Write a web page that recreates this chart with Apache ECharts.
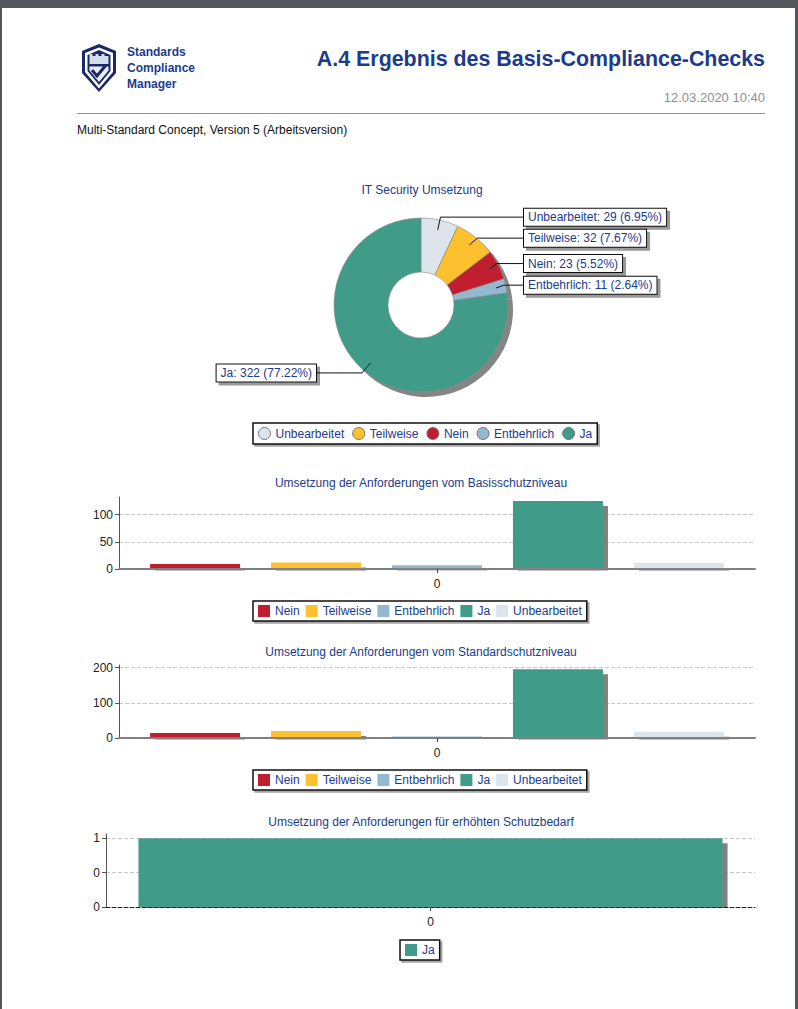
<!DOCTYPE html>
<html><head><meta charset="utf-8">
<script src="https://cdn.jsdelivr.net/npm/echarts/dist/echarts.min.js"></script>
<style>html,body{margin:0;padding:0;background:#fff}#c{width:798px;height:1009px}</style>
</head><body><div id="c"></div>
<script>
// ---- data ----
const PIE_NAMES = ['Unbearbeitet', 'Teilweise', 'Nein', 'Entbehrlich', 'Ja'];
const PIE_VALUES = [29, 32, 23, 11, 322];
const BAR_NAMES = ['Nein', 'Teilweise', 'Entbehrlich', 'Ja', 'Unbearbeitet'];
const BASIS_VALUES = [9, 12, 7, 125, 11];
const STANDARD_VALUES = [14, 20, 4, 196, 18];
const ERHOEHT_NAMES = ['Ja'];
const ERHOEHT_VALUES = [1];
const X_CATEGORIES = ['0'];
const TITLES = ['IT Security Umsetzung', 'Umsetzung der Anforderungen vom Basisschutzniveau',
  'Umsetzung der Anforderungen vom Standardschutzniveau', 'Umsetzung der Anforderungen für erhöhten Schutzbedarf'];

// ---- styles ----
const COLORS = { Nein: '#c11f2f', Teilweise: '#fdc12f', Entbehrlich: '#94b8ce', Ja: '#419b89', Unbearbeitet: '#dde5ec' };
const FONT = '"Liberation Sans", Arial, sans-serif';
const BLUE = '#1b3b8b';
const CX = 421, CY = 305;

const chart = echarts.init(document.getElementById('c'), null, { renderer: 'svg' });

function barSeries(names, values, idx, width, gap) {
  return names.map((n, i) => ({
    type: 'bar', name: n, xAxisIndex: idx, yAxisIndex: idx, data: [values[i]],
    barWidth: width, barGap: gap, z: 2,
    itemStyle: { color: COLORS[n], shadowColor: '#808080', shadowOffsetX: 5, shadowOffsetY: 5, shadowBlur: 0 },
    emphasis: { disabled: true }
  }));
}

function yAxis(idx, interval, fmt) {
  return {
    type: 'value', gridIndex: idx, min: 0, max: v => v.max * 1.06, interval: interval,
    axisLine: { show: true, lineStyle: { color: '#555' } },
    axisTick: { show: true, length: 4, lineStyle: { color: '#555' } },
    axisLabel: { color: '#222', fontSize: 12, margin: 6, showMaxLabel: false, formatter: fmt },
    splitLine: { show: true, showMaxLine: false, lineStyle: { color: '#c8c8c8', type: 'dashed' } }
  };
}
function xAxis(idx, lineStyle) {
  return {
    type: 'category', gridIndex: idx, data: X_CATEGORIES, z: 60,
    axisLine: { show: true, lineStyle: lineStyle },
    axisTick: { show: true, alignWithLabel: true, length: 4, lineStyle: { color: '#444' } },
    axisLabel: { color: '#222', fontSize: 12, margin: 9 }
  };
}
function legend(names, left, top, icon, gap) {
  return {
    data: names, left: left, top: top, icon: icon, itemWidth: 12, itemHeight: 12, itemGap: gap,
    padding: [4, 5], borderColor: '#111', borderWidth: 1.5, backgroundColor: '#fff',
    shadowColor: 'rgba(0,0,0,0.35)', shadowOffsetX: 2, shadowOffsetY: 2, shadowBlur: 0,
    textStyle: { color: BLUE, fontSize: 12, fontFamily: FONT },
    itemStyle: icon === 'circle' ? { borderColor: '#777', borderWidth: 1 } : { borderWidth: 0 },
    selectedMode: false
  };
}

const titleStyle = { fontSize: 12, fontWeight: 'normal', color: BLUE, fontFamily: FONT };
const NAVY = '#1b2a66';

const option = {
  backgroundColor: '#fff',
  animation: false,
  textStyle: { fontFamily: FONT },
  title: [
    { text: TITLES[0], left: 422, top: 184, textAlign: 'center', padding: 0, textStyle: titleStyle },
    { text: TITLES[1], left: 421, top: 477, textAlign: 'center', padding: 0, textStyle: titleStyle },
    { text: TITLES[2], left: 421, top: 646, textAlign: 'center', padding: 0, textStyle: titleStyle },
    { text: TITLES[3], left: 421, top: 816, textAlign: 'center', padding: 0, textStyle: titleStyle }
  ],
  legend: [
    legend(PIE_NAMES, 253, 423, 'circle', 8),
    legend(BAR_NAMES, 253, 601, 'rect', 6),
    legend(BAR_NAMES, 253, 770, 'rect', 6),
    legend(ERHOEHT_NAMES, 400, 940, 'rect', 6)
  ],
  grid: [
    { left: 119, top: 497, width: 636, height: 72 },
    { left: 119, top: 665, width: 636, height: 73 },
    { left: 106, top: 834, width: 649, height: 73 }
  ],
  xAxis: [
    xAxis(0, { color: '#808080', width: 2 }),
    xAxis(1, { color: '#808080', width: 2 }),
    xAxis(2, { color: '#222', width: 1, type: 'dashed' })
  ],
  yAxis: [
    yAxis(0, 50),
    yAxis(1, 100),
    yAxis(2, 0.5, v => String(Math.floor(v)))
  ],
  series: [
    // shadow of the donut
    { type: 'pie', silent: true, z: 1, center: [CX + 5, CY + 5], radius: [41, 87], startAngle: 90,
      data: PIE_VALUES, label: { show: false }, labelLine: { show: false },
      itemStyle: { color: '#858585' }, emphasis: { disabled: true } },
    // donut
    { type: 'pie', silent: true, z: 2, center: [CX, CY], radius: [33, 87], startAngle: 90,
      color: PIE_NAMES.map(n => COLORS[n]),
      data: PIE_NAMES.map((n, i) => ({ name: n, value: PIE_VALUES[i] })),
      label: { show: false }, labelLine: { show: false },
      itemStyle: { borderColor: '#8a8a8a', borderWidth: 0.6 }, emphasis: { disabled: true } },
    // label carrier
    { type: 'pie', silent: true, z: 3, center: [CX, CY], radius: [0, 77], startAngle: 90,
      data: PIE_NAMES.map((n, i) => ({ name: n, value: PIE_VALUES[i] })),
      itemStyle: { color: 'rgba(0,0,0,0)' }, emphasis: { disabled: true },
      label: { show: true, position: 'outside', formatter: '{b}: {c} ({d}%)', color: BLUE, fontSize: 12,
        backgroundColor: '#fff', borderColor: '#111', borderWidth: 1, padding: [3, 4, 2, 4],
        shadowColor: 'rgba(0,0,0,0.4)', shadowOffsetX: 3, shadowOffsetY: 3, shadowBlur: 0 },
      labelLine: { show: true, length: 13, length2: 10, lineStyle: { color: '#111', width: 1 } },
      labelLayout: function (p) {
        const pts = p.labelLinePoints;
        if (!pts) return {};
        const right = pts[1][0] > CX;
        const ex = right ? CX + 103 : CX - 105;
        const y = pts[2][1];
        return { x: ex, y: y, align: right ? 'left' : 'right', verticalAlign: 'middle',
          labelLinePoints: [pts[0], pts[1], [ex, y]] };
      } }
  ].concat(barSeries(BAR_NAMES, BASIS_VALUES, 0, 90, '34.4%'))
   .concat(barSeries(BAR_NAMES, STANDARD_VALUES, 1, 90, '34.4%'))
   .concat(barSeries(ERHOEHT_NAMES, ERHOEHT_VALUES, 2, '90%', '0%')),
  graphic: {
    elements: [
      // page frame
      { type: 'rect', z: 50, shape: { x: 0, y: 0, width: 798, height: 8 }, style: { fill: '#53575b' } },
      { type: 'rect', z: 50, shape: { x: 0, y: 0, width: 2, height: 1009 }, style: { fill: '#53575b' } },
      { type: 'rect', z: 50, shape: { x: 795, y: 0, width: 3, height: 1009 }, style: { fill: '#53575b' } },
      // covers for bar shadows below baselines
      { type: 'rect', z: 50, shape: { x: 120, y: 570.5, width: 645, height: 6 }, style: { fill: '#fff' } },
      { type: 'rect', z: 50, shape: { x: 120, y: 739.5, width: 645, height: 6 }, style: { fill: '#fff' } },
      { type: 'rect', z: 50, shape: { x: 107, y: 908, width: 658, height: 6 }, style: { fill: '#fff' } },
      // logo
      { type: 'polygon', z: 50, shape: { points: [[99, 44], [116, 51], [116, 73], [99, 92], [82, 73], [82, 51]] }, style: { fill: NAVY } },
      { type: 'polygon', z: 50, shape: { points: [[99, 47.5], [113, 53], [113, 72], [99, 88.5], [85, 72], [85, 53]] }, style: { fill: '#fff' } },
      { type: 'polygon', z: 50, shape: { points: [[99, 50], [110.5, 55], [110.5, 71], [99, 85], [87.5, 71], [87.5, 55]] }, style: { fill: NAVY } },
      { type: 'polygon', z: 50, shape: { points: [[89.5, 64], [89.5, 54], [92.5, 54], [92.5, 56], [95.5, 56], [95.5, 54], [98.5, 54], [98.5, 56], [101.5, 56], [101.5, 54], [104.5, 54], [104.5, 56], [108.5, 56], [108.5, 64]] }, style: { fill: '#d3deec' } },
      { type: 'polygon', z: 50, shape: { points: [[89.5, 66.5], [108.5, 66.5], [108.5, 70.5], [99, 82], [89.5, 70.5]] }, style: { fill: '#e9eef6' } },
      { type: 'polyline', z: 51, shape: { points: [[92, 70], [97, 76], [106, 65]] }, style: { stroke: NAVY, lineWidth: 3, fill: null } },
      // header texts
      { type: 'text', z: 50, x: 127, y: 52, style: { text: 'Standards', font: 'bold 12px ' + FONT, fill: BLUE, verticalAlign: 'middle' } },
      { type: 'text', z: 50, x: 127, y: 68, style: { text: 'Compliance', font: 'bold 12px ' + FONT, fill: BLUE, verticalAlign: 'middle' } },
      { type: 'text', z: 50, x: 127, y: 84, style: { text: 'Manager', font: 'bold 12px ' + FONT, fill: BLUE, verticalAlign: 'middle' } },
      { type: 'text', z: 50, x: 765, y: 59, style: { text: 'A.4 Ergebnis des Basis-Compliance-Checks', font: 'bold 21.4px ' + FONT, fill: BLUE, align: 'right', verticalAlign: 'middle' } },
      { type: 'text', z: 50, x: 765, y: 97, style: { text: '12.03.2020 10:40', font: '13px ' + FONT, fill: '#8b9098', align: 'right', verticalAlign: 'middle' } },
      { type: 'line', z: 50, shape: { x1: 77, y1: 113.5, x2: 765, y2: 113.5 }, style: { stroke: '#8295ad', lineWidth: 1 } },
      { type: 'text', z: 50, x: 77, y: 130, style: { text: 'Multi-Standard Concept, Version 5 (Arbeitsversion)', font: '12px ' + FONT, fill: '#111', verticalAlign: 'middle' } }
    ]
  }
};
chart.setOption(option);
</script>
</body></html>
